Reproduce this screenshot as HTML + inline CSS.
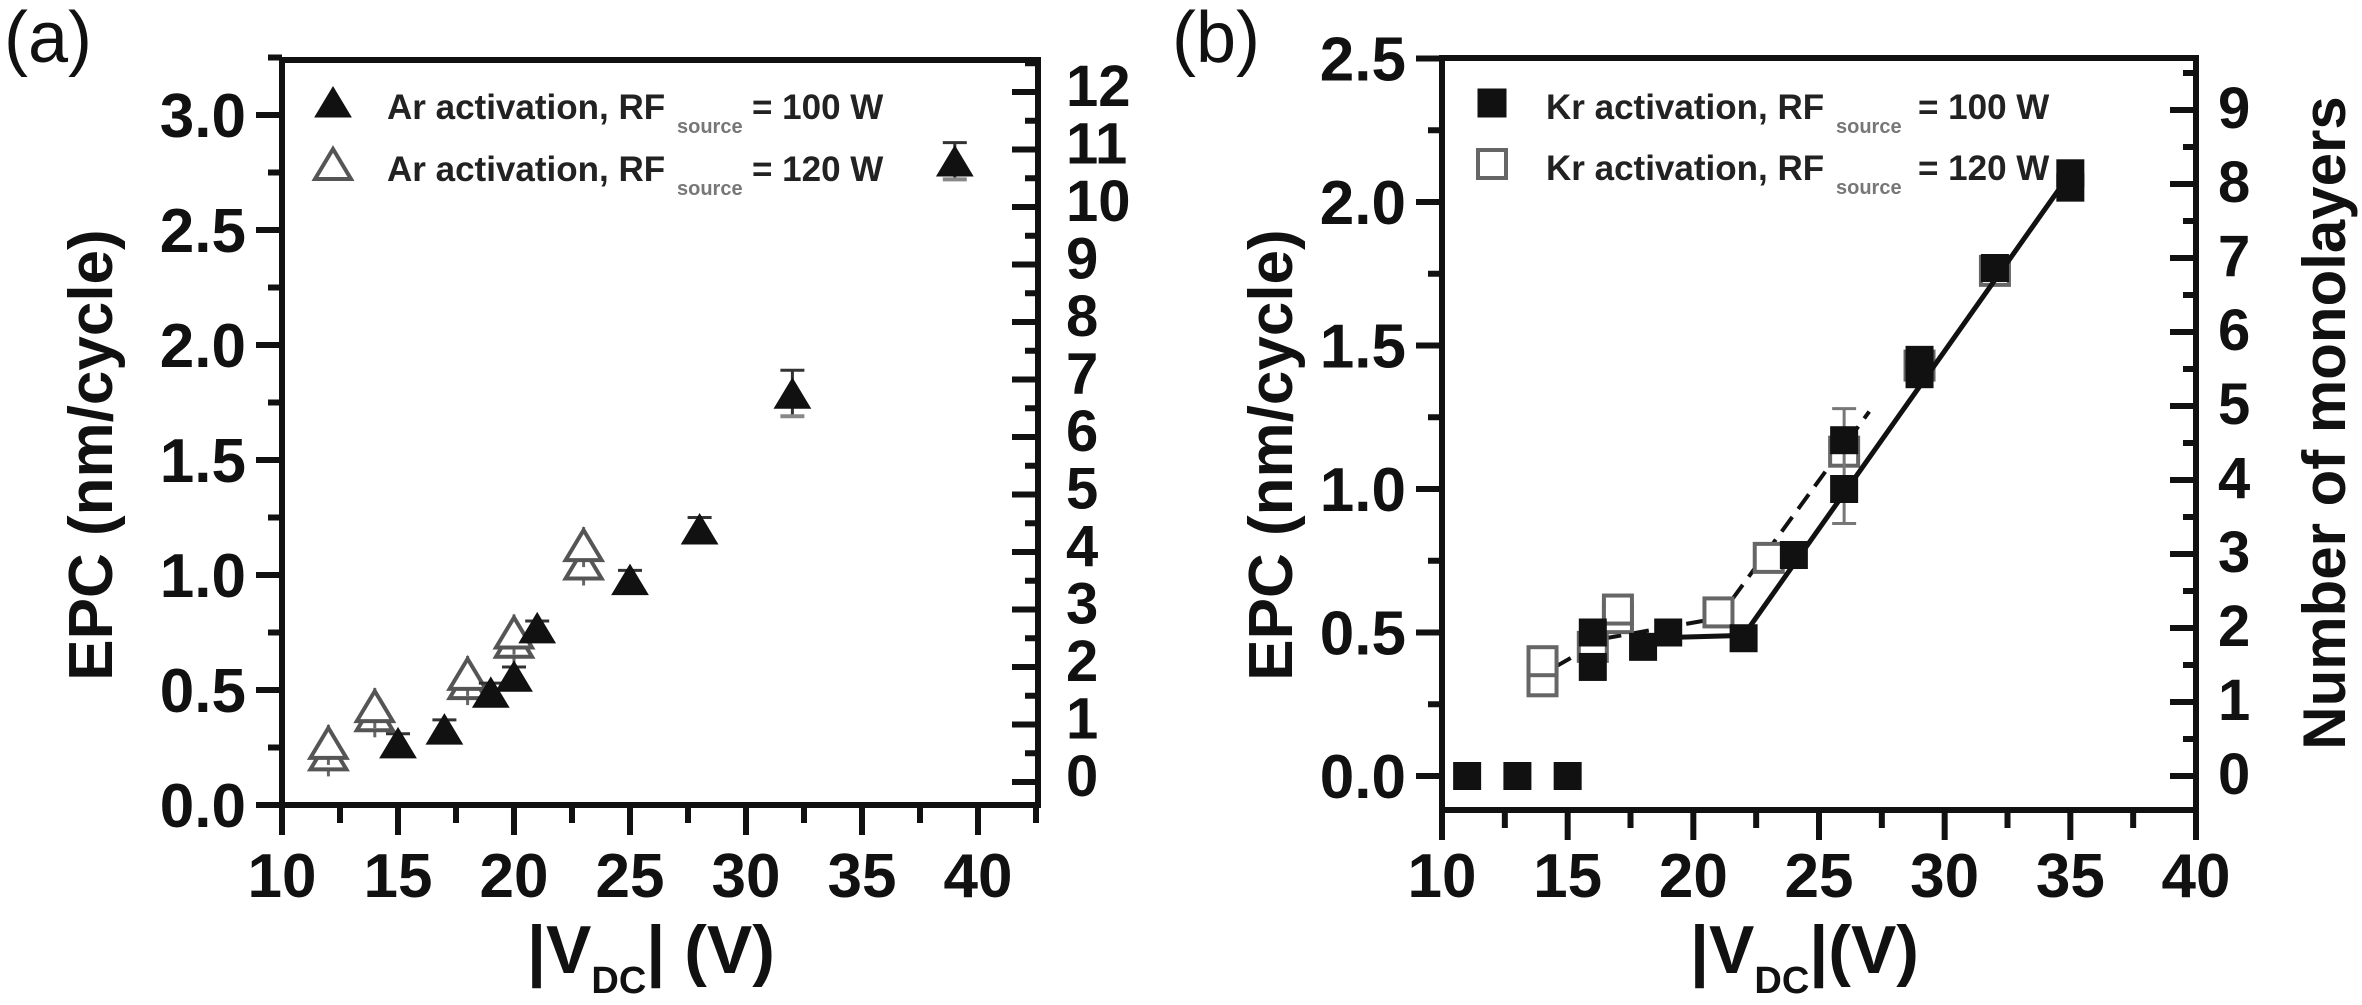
<!DOCTYPE html>
<html><head><meta charset="utf-8">
<style>
html,body{margin:0;padding:0;background:#fff;}
svg{display:block;font-family:"Liberation Sans",Arial,sans-serif;}
</style></head>
<body>
<svg id="fig" width="2362" height="1005" viewBox="0 0 2362 1005" xmlns="http://www.w3.org/2000/svg">
  <g id="pa"></g>
  <g id="pb"></g>
</svg>
<script>
// ---------- Panel (a) data ----------
const aFilledX = [15, 17, 19, 20, 21, 25, 28, 32, 39];
const aFilledY = [0.27, 0.33, 0.49, 0.56, 0.77, 0.98, 1.20, 1.79, 2.80];
const aFilledErr = [0.04, 0.04, 0.04, 0.04, 0.03, 0.04, 0.05, 0.10, 0.08];
const aOpenX = [12, 12, 14, 14, 18, 18, 20, 20, 23, 23];
const aOpenY = [0.22, 0.27, 0.39, 0.43, 0.53, 0.57, 0.71, 0.75, 1.05, 1.13];
const aXTicks = [10, 15, 20, 25, 30, 35, 40];
const aYTicks = [0.0, 0.5, 1.0, 1.5, 2.0, 2.5, 3.0];
const aRightTicks = [0,1,2,3,4,5,6,7,8,9,10,11,12];
// ---------- Panel (b) data ----------
const bFilledX = [11, 13, 15, 16, 16, 18, 19, 22, 24, 26, 26, 29, 29, 32, 35, 35];
const bFilledY = [0.0, 0.0, 0.0, 0.38, 0.50, 0.45, 0.50, 0.48, 0.77, 1.00, 1.17, 1.40, 1.45, 1.77, 2.05, 2.10];
const bOpenX = [14, 14, 16, 17, 17, 21, 23, 26, 29, 32];
const bOpenY = [0.33, 0.40, 0.45, 0.55, 0.58, 0.57, 0.76, 1.13, 1.43, 1.76];
const bSolidFitX = [18, 22, 35];
const bSolidFitY = [0.48, 0.49, 2.10];
const bDashFitX = [14.5, 16.5, 21, 27];
const bDashFitY = [0.38, 0.48, 0.55, 1.27];
const bXTicks = [10, 15, 20, 25, 30, 35, 40];
const bYTicks = [0.0, 0.5, 1.0, 1.5, 2.0, 2.5];
const bRightTicks = [0,1,2,3,4,5,6,7,8,9];

const NS = "http://www.w3.org/2000/svg";
function mk(parent, tag, attrs, text){
  const e = document.createElementNS(NS, tag);
  for (const k in attrs) e.setAttribute(k, attrs[k]);
  if (text !== undefined) e.textContent = text;
  parent.appendChild(e);
  return e;
}

// ---------- Panel (a) ----------
(function(){
  const g = document.getElementById('pa');
  const L=282, R=1038, T=60, B=805;
  const xmin=10, xmax=10+(R-L)/23.2;
  const ymin=0, ymax=(B-T)/230;
  const sx = v => L + (v-xmin)/(xmax-xmin)*(R-L);
  const sy = v => B - (v-ymin)/(ymax-ymin)*(B-T);
  const mlY = n => 782 - n*57.5;

  let t = mk(g,'text',{x:4,y:62,'font-size':72,fill:'#111'},'(a)');
  
  

  const frame = mk(g,'rect',{x:L,y:T,width:R-L,height:B-T,fill:'none',stroke:'#111','stroke-width':6});
  
  

  // y ticks (outward left)
  for (let v=0; v<=3.25+1e-6; v+=0.25){
    const maj = Math.abs(v*2-Math.round(v*2))<1e-6;
    mk(g,'line',{x1:L,x2:L-(maj?26:14),y1:sy(v),y2:sy(v),stroke:'#111','stroke-width':6});
  }
  aYTicks.forEach(v=>{
    const e = mk(g,'text',{x:246,y:sy(v)+22,'font-size':62,'font-weight':'bold','text-anchor':'end',fill:'#111'},v.toFixed(1));
    
    
  });
  // x ticks (outward down)
  for (let v=10; v<=xmax; v+=2.5){
    const maj = Math.abs(v%5)<1e-6;
    mk(g,'line',{x1:sx(v),x2:sx(v),y1:B,y2:B+(maj?30:18),stroke:'#111','stroke-width':6});
  }
  aXTicks.forEach(v=>{
    const e = mk(g,'text',{x:sx(v),y:897,'font-size':62,'font-weight':'bold','text-anchor':'middle',fill:'#111'},String(v));
    
    
  });
  // right ticks (inward)
  for (let n=0; n<=12.5; n+=0.5){
    const maj = Math.abs(n-Math.round(n))<1e-6;
    mk(g,'line',{x1:R,x2:R-(maj?26:13),y1:mlY(n),y2:mlY(n),stroke:'#111','stroke-width':6});
  }
  aRightTicks.forEach(n=>{
    const e = mk(g,'text',{x:1066,y:mlY(n)+14,'font-size':58,'font-weight':'bold',fill:'#111'},String(n));
    
    
  });
  // axis titles
  t = mk(g,'text',{x:0,y:0,'font-size':62,'font-weight':'bold','text-anchor':'middle',fill:'#111',transform:'translate(112,455) rotate(-90)'},'EPC (nm/cycle)');
  
  
  t = mk(g,'text',{x:527,y:973,'font-size':68,'font-weight':'bold',fill:'#111'});
  
  
  mk(t,'tspan',{},'|V');
  mk(t,'tspan',{dy:20,'font-size':38},'DC');
  mk(t,'tspan',{dy:-20},'| (V)');

  // data: filled triangles
  function tri(cx, cy, filled, grp){
    const w=36, h=30;
    return mk(grp,'polygon',{points:`${cx-w/2},${cy+h/2} ${cx+w/2},${cy+h/2} ${cx},${cy-h/2}`,
      fill: filled?'#111':'#fff', stroke: filled?'#111':'#555','stroke-width':filled?1:4});
  }
  const go = mk(g,'g',{});
  
  
  aOpenX.forEach((x,i)=>{
    mk(go,'line',{x1:sx(x),x2:sx(x),y1:sy(aOpenY[i])-18,y2:sy(aOpenY[i])+22,stroke:'#666','stroke-width':3});
    const p = tri(sx(x), sy(aOpenY[i]), false, go);
    
    
  });
  const gf = mk(g,'g',{});
  
  
  aFilledX.forEach((x,i)=>{
    const cx=sx(x), y=aFilledY[i], e=aFilledErr[i];
    mk(gf,'line',{x1:cx,x2:cx,y1:sy(y+e),y2:sy(y-e),stroke:'#333','stroke-width':3});
    mk(gf,'line',{x1:cx-12,x2:cx+12,y1:sy(y+e),y2:sy(y+e),stroke:'#333','stroke-width':3});
    mk(gf,'line',{x1:cx-12,x2:cx+12,y1:sy(y-e),y2:sy(y-e),stroke:'#888','stroke-width':4});
    const p = tri(cx, sy(y), true, gf);
    
    
  });

  // legend
  const lg = mk(g,'g',{});
  
  
  [[119,true,'100 W'],[181,false,'120 W']].forEach(r=>{
    tri(333, r[0]-17, r[1], lg);
    const e = mk(lg,'text',{x:387,y:r[0],'font-size':35,'font-weight':'bold',fill:'#222'},'Ar activation, RF');
    
    
    mk(lg,'text',{x:677,y:r[0]+14,'font-size':20,'font-weight':'bold',fill:'#777'},'source');
    mk(lg,'text',{x:752,y:r[0],'font-size':35,'font-weight':'bold',fill:'#222'},'= '+r[2]);
  });
})();

// ---------- Panel (b) ----------
(function(){
  const g = document.getElementById('pb');
  const L=1442, R=2196, T=58, B=810;
  const xmin=10, xmax=40;
  const pxu=287, y0=776;
  const sx = v => L + (v-xmin)/(xmax-xmin)*(R-L);
  const sy = v => y0 - v*pxu;
  const mlY = n => 776 - n*74;

  let t = mk(g,'text',{x:1172,y:62,'font-size':72,fill:'#111'},'(b)');
  
  

  const frame = mk(g,'rect',{x:L,y:T,width:R-L,height:B-T,fill:'none',stroke:'#111','stroke-width':6});
  
  

  for (let v=0; v<=2.5+1e-6; v+=0.25){
    const maj = Math.abs(v*2-Math.round(v*2))<1e-6;
    mk(g,'line',{x1:L,x2:L-(maj?26:14),y1:sy(v),y2:sy(v),stroke:'#111','stroke-width':6});
  }
  bYTicks.forEach(v=>{
    const e = mk(g,'text',{x:1406,y:sy(v)+22,'font-size':62,'font-weight':'bold','text-anchor':'end',fill:'#111'},v.toFixed(1));
    
    
  });
  for (let v=10; v<=40+1e-6; v+=2.5){
    const maj = Math.abs(v%5)<1e-6;
    mk(g,'line',{x1:sx(v),x2:sx(v),y1:B,y2:B+(maj?30:18),stroke:'#111','stroke-width':6});
  }
  bXTicks.forEach(v=>{
    const e = mk(g,'text',{x:sx(v),y:897,'font-size':62,'font-weight':'bold','text-anchor':'middle',fill:'#111'},String(v));
    
    
  });
  for (let n=0; n<=9.5; n+=0.5){
    const maj = Math.abs(n-Math.round(n))<1e-6;
    mk(g,'line',{x1:R,x2:R-(maj?26:13),y1:mlY(n),y2:mlY(n),stroke:'#111','stroke-width':6});
  }
  bRightTicks.forEach(n=>{
    const e = mk(g,'text',{x:2218,y:mlY(n)+18,'font-size':58,'font-weight':'bold',fill:'#111'},String(n));
    
    
  });
  t = mk(g,'text',{x:0,y:0,'font-size':62,'font-weight':'bold','text-anchor':'middle',fill:'#111',transform:'translate(1292,455) rotate(-90)'},'EPC (nm/cycle)');
  
  
  t = mk(g,'text',{x:0,y:0,'font-size':60,'font-weight':'bold','text-anchor':'middle',fill:'#111',transform:'translate(2345,423) rotate(-90)'},'Number of monolayers');
  
  
  t = mk(g,'text',{x:1690,y:973,'font-size':68,'font-weight':'bold',fill:'#111'});
  
  
  mk(t,'tspan',{},'|V');
  mk(t,'tspan',{dy:20,'font-size':38},'DC');
  mk(t,'tspan',{dy:-20},'|(V)');

  // fit lines
  let d = bDashFitX.map((x,i)=>(i?'L':'M')+sx(x)+','+sy(bDashFitY[i])).join(' ');
  const dl = mk(g,'path',{d:d,fill:'none',stroke:'#111','stroke-width':4,'stroke-dasharray':'18 10'});
  
  

  const sq = 28;
  const go = mk(g,'g',{});
  
  
  bOpenX.forEach((x,i)=>{
    const p = mk(go,'rect',{x:sx(x)-sq/2,y:sy(bOpenY[i])-sq/2,width:sq,height:sq,fill:'#fff',stroke:'#666','stroke-width':4});
    
    
  });
  // error bars at 26
  mk(g,'line',{x1:sx(26),x2:sx(26),y1:sy(1.28),y2:sy(0.88),stroke:'#777','stroke-width':3});
  mk(g,'line',{x1:sx(26)-12,x2:sx(26)+12,y1:sy(1.28),y2:sy(1.28),stroke:'#777','stroke-width':3});
  mk(g,'line',{x1:sx(26)-12,x2:sx(26)+12,y1:sy(0.88),y2:sy(0.88),stroke:'#777','stroke-width':3});

  d = bSolidFitX.map((x,i)=>(i?'L':'M')+sx(x)+','+sy(bSolidFitY[i])).join(' ');
  const sl = mk(g,'path',{d:d,fill:'none',stroke:'#111','stroke-width':5});
  
  

  const gf = mk(g,'g',{});
  
  
  bFilledX.forEach((x,i)=>{
    const p = mk(gf,'rect',{x:sx(x)-sq/2,y:sy(bFilledY[i])-sq/2,width:sq,height:sq,fill:'#111'});
    
    
  });

  const lg = mk(g,'g',{});
  
  
  [[119,true,'100 W'],[180,false,'120 W']].forEach(r=>{
    mk(lg,'rect',{x:1478,y:r[0]-30,width:28,height:28,fill:r[1]?'#111':'#fff',stroke:r[1]?'#111':'#666','stroke-width':r[1]?1:4});
    const e = mk(lg,'text',{x:1546,y:r[0],'font-size':35,'font-weight':'bold',fill:'#222'},'Kr activation, RF');
    
    
    mk(lg,'text',{x:1836,y:r[0]+14,'font-size':20,'font-weight':'bold',fill:'#777'},'source');
    mk(lg,'text',{x:1918,y:r[0],'font-size':35,'font-weight':'bold',fill:'#222'},'= '+r[2]);
  });
})();
</script>
</body></html>
